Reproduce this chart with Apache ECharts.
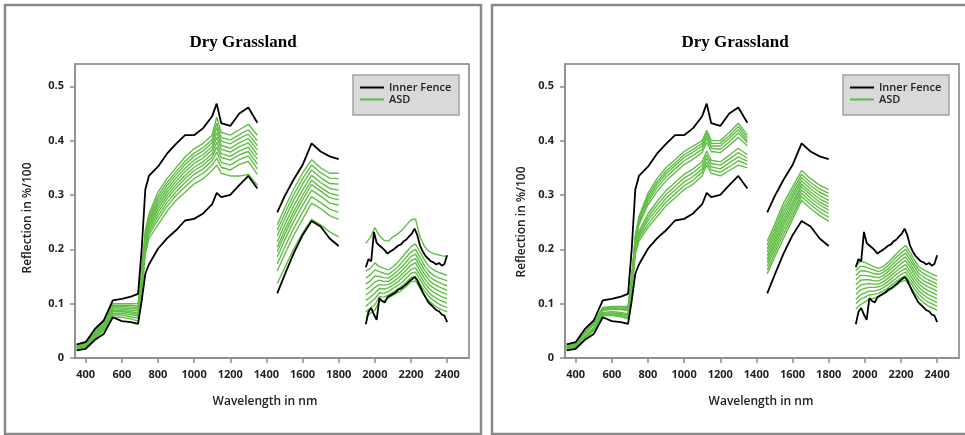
<!DOCTYPE html>
<html>
<head>
<meta charset="utf-8">
<script src="https://cdn.jsdelivr.net/npm/echarts@6/dist/echarts.min.js"></script>
<style>
  html, body { margin: 0; background: #fff; }
  #chart { width: 965px; height: 435px; }
</style>
</head>
<body>
<div id="chart"></div>
<script>
// wavelengths (nm); null rows at 1400 and 1875 break the lines over the water bands
const wavelengths = [350, 400, 450, 500, 550, 600, 650, 690, 710, 730, 750, 800, 850, 900, 950, 1000, 1050, 1100, 1125, 1150, 1200, 1250, 1300, 1350,
  1400,
  1460, 1500, 1550, 1600, 1650, 1700, 1750, 1800,
  1875,
  1950, 1975, 2000, 2025, 2050, 2075, 2100, 2125, 2150, 2175, 2200, 2225, 2250, 2275, 2300, 2325, 2350, 2375, 2400];

// the fence spectra are noisier past 1950 nm, so they get a finer grid there
const fenceWavelengths = [350, 400, 450, 500, 550, 600, 650, 690, 710, 730, 750, 800, 850, 900, 950, 1000, 1050, 1100, 1125, 1150, 1200, 1250, 1300, 1350,
  1400,
  1460, 1500, 1550, 1600, 1650, 1700, 1750, 1800,
  1875,
  1950, 1965, 1980, 1995, 2010, 2025, 2040, 2055, 2070, 2085, 2100, 2115, 2130, 2145, 2160, 2175, 2190, 2205, 2220, 2235, 2250, 2265, 2280, 2295, 2310, 2325, 2340, 2355, 2370, 2385, 2400];

// Inner Fence (same in both panels)
const fenceHigh = [.025, .029, .053, .069, .106, .109, .113, .118, .200, .310, .335, .352, .376, .394, .410, .410, .423, .445, .468, .432, .427, .450, .461, .433, null,
  .268, .297, .328, .355, .395, .380, .371, .366, null,
  .167, .182, .178, .232, .212, .207, .203, .198, .192, .196, .199, .203, .207, .209, .215, .218, .224, .229, .238, .226, .207, .196, .188, .183, .178, .176, .172, .175, .170, .173, .189];
const fenceLow = [.014, .017, .033, .044, .075, .068, .066, .063, .105, .155, .172, .201, .220, .235, .253, .256, .266, .283, .304, .296, .300, .318, .335, .312, null,
  .119, .152, .192, .226, .252, .242, .220, .206, null,
  .062, .085, .092, .080, .070, .110, .105, .102, .112, .115, .118, .121, .126, .128, .132, .136, .141, .145, .149, .143, .132, .121, .112, .103, .098, .093, .088, .086, .080, .078, .066];

// ASD spectra, left panel
const asdLeft1 = [.024, .030, .050, .068, .100, .100, .100, .100, .160, .235, .265, .305, .330, .350, .370, .385, .395, .410, .443, .415, .410, .420, .430, .410, null,
  .245, .275, .310, .340, .365, .350, .340, .340, null,
  .211, .222, .240, .225, .217, .215, .223, .228, .235, .245, .254, .256, .223, .205, .196, .192, .190, .188, .187];
const asdLeft2 = [.023, .029, .048, .066, .097, .097, .097, .096, .155, .230, .260, .298, .323, .343, .362, .377, .387, .402, .432, .406, .401, .411, .420, .400, null,
  .235, .265, .300, .330, .355, .341, .331, .330, null,
  .160, .165, .175, .168, .165, .162, .168, .175, .185, .195, .205, .210, .195, .180, .168, .162, .158, .155, .152];
const asdLeft3 = [.022, .028, .047, .064, .095, .095, .094, .093, .151, .225, .255, .292, .317, .337, .356, .371, .381, .396, .424, .399, .394, .404, .412, .391, null,
  .225, .255, .290, .320, .346, .332, .321, .320, null,
  .147, .153, .162, .159, .156, .154, .160, .167, .176, .186, .195, .200, .185, .170, .159, .152, .148, .145, .142];
const asdLeft4 = [.021, .027, .045, .062, .092, .092, .091, .090, .147, .221, .251, .286, .311, .331, .349, .364, .374, .389, .415, .391, .386, .396, .404, .383, null,
  .214, .244, .279, .309, .336, .323, .312, .309, null,
  .136, .142, .151, .150, .148, .147, .153, .160, .168, .177, .187, .191, .176, .162, .150, .144, .140, .136, .133];
const asdLeft5 = [.021, .026, .044, .060, .090, .090, .088, .087, .143, .216, .246, .280, .305, .325, .343, .358, .368, .383, .406, .384, .379, .389, .396, .374, null,
  .204, .234, .269, .299, .327, .314, .303, .299, null,
  .126, .132, .140, .143, .141, .141, .147, .153, .161, .170, .179, .183, .168, .154, .143, .136, .132, .128, .125];
const asdLeft6 = [.020, .025, .042, .059, .087, .087, .085, .083, .139, .212, .242, .274, .299, .319, .336, .351, .361, .376, .397, .376, .371, .381, .388, .366, null,
  .196, .226, .261, .291, .319, .307, .295, .291, null,
  .116, .122, .130, .135, .134, .135, .140, .146, .154, .162, .171, .175, .160, .146, .135, .129, .124, .120, .117];
const asdLeft7 = [.019, .024, .041, .057, .085, .085, .083, .080, .135, .207, .237, .268, .293, .313, .330, .345, .355, .370, .388, .369, .364, .374, .380, .357, null,
  .186, .216, .251, .281, .309, .298, .285, .281, null,
  .106, .112, .119, .128, .127, .129, .134, .140, .147, .155, .163, .166, .152, .138, .128, .121, .116, .112, .109];
const asdLeft8 = [.018, .023, .039, .055, .082, .082, .080, .077, .131, .202, .232, .261, .286, .306, .323, .338, .348, .363, .379, .360, .355, .365, .372, .348, null,
  .173, .203, .238, .268, .297, .286, .274, .268, null,
  .095, .102, .109, .120, .119, .122, .128, .133, .139, .147, .156, .158, .144, .131, .120, .113, .108, .104, .101];
const asdLeft9 = [.017, .021, .037, .053, .079, .079, .076, .073, .126, .197, .227, .254, .279, .299, .315, .330, .340, .355, .368, .351, .346, .356, .362, .338, null,
  .160, .190, .225, .255, .285, .275, .262, .255, null,
  .085, .092, .098, .113, .112, .116, .121, .127, .132, .140, .148, .150, .136, .123, .113, .106, .100, .096, .093];
const asdLeft10 = [.016, .020, .035, .050, .075, .075, .072, .068, .120, .190, .220, .245, .270, .290, .305, .320, .330, .345, .355, .340, .335, .335, .338, .318, null,
  .137, .165, .200, .230, .255, .245, .232, .223, null,
  .075, .082, .088, .105, .105, .110, .115, .120, .125, .132, .140, .142, .128, .115, .105, .098, .092, .088, .085];

// ASD spectra, right panel
const asdRight1 = [.022, .028, .048, .066, .093, .095, .095, .095, .150, .225, .260, .303, .330, .350, .365, .380, .390, .400, .419, .400, .400, .415, .432, .410, null,
  .215, .245, .285, .315, .345, .330, .318, .310, null,
  .170, .178, .176, .172, .168, .165, .168, .175, .183, .192, .200, .207, .195, .180, .168, .162, .158, .154, .150];
const asdRight2 = [.022, .027, .047, .065, .092, .094, .094, .093, .148, .222, .256, .298, .324, .344, .359, .374, .384, .395, .414, .395, .395, .409, .426, .405, null,
  .208, .238, .277, .308, .338, .323, .311, .303, null,
  .161, .169, .168, .165, .162, .159, .162, .169, .177, .186, .193, .200, .188, .173, .162, .155, .151, .147, .143];
const asdRight3 = [.021, .027, .046, .063, .091, .092, .092, .091, .145, .219, .253, .293, .319, .339, .354, .369, .379, .390, .409, .390, .390, .404, .420, .400, null,
  .201, .231, .270, .301, .332, .317, .305, .297, null,
  .152, .160, .160, .158, .155, .154, .157, .163, .171, .179, .187, .193, .181, .167, .155, .149, .144, .140, .136];
const asdRight4 = [.021, .026, .045, .062, .089, .091, .090, .089, .143, .217, .249, .288, .313, .333, .348, .363, .373, .384, .404, .386, .384, .398, .414, .396, null,
  .195, .225, .263, .295, .326, .311, .299, .290, null,
  .144, .152, .152, .151, .149, .148, .151, .158, .165, .173, .180, .186, .174, .160, .149, .142, .138, .134, .130];
const asdRight5 = [.020, .025, .044, .061, .088, .089, .089, .087, .140, .213, .245, .282, .306, .326, .341, .356, .366, .378, .397, .380, .378, .391, .406, .390, null,
  .188, .218, .256, .288, .320, .305, .293, .284, null,
  .135, .143, .144, .144, .142, .142, .146, .152, .159, .166, .174, .179, .167, .154, .142, .136, .131, .127, .123];
const asdRight6 = [.018, .023, .040, .056, .084, .085, .084, .081, .132, .204, .233, .265, .288, .308, .323, .338, .348, .361, .381, .364, .361, .373, .386, .374, null,
  .182, .212, .249, .282, .315, .300, .287, .278, null,
  .126, .134, .136, .137, .136, .136, .140, .146, .153, .160, .167, .172, .160, .147, .136, .129, .124, .120, .116];
const asdRight7 = [.018, .022, .039, .055, .083, .083, .082, .079, .129, .200, .228, .259, .281, .301, .316, .331, .341, .355, .374, .358, .355, .366, .378, .368, null,
  .176, .206, .243, .276, .309, .294, .282, .272, null,
  .117, .125, .128, .130, .130, .131, .134, .140, .147, .154, .160, .165, .153, .140, .130, .122, .117, .113, .109];
const asdRight8 = [.017, .022, .038, .053, .081, .081, .080, .077, .126, .197, .224, .253, .274, .294, .309, .324, .334, .348, .368, .352, .348, .359, .370, .362, null,
  .169, .199, .236, .269, .303, .288, .275, .266, null,
  .108, .116, .120, .123, .123, .125, .129, .134, .141, .147, .154, .158, .146, .134, .123, .116, .110, .106, .102];
const asdRight9 = [.017, .021, .036, .052, .080, .080, .078, .074, .123, .194, .220, .246, .267, .287, .302, .317, .327, .342, .361, .346, .342, .352, .363, .356, null,
  .162, .192, .228, .262, .297, .282, .269, .259, null,
  .100, .108, .112, .116, .117, .119, .123, .128, .135, .141, .147, .151, .140, .127, .117, .109, .103, .099, .095];
const asdRight10 = [.016, .020, .035, .050, .078, .078, .076, .072, .120, .190, .215, .240, .260, .280, .295, .310, .320, .335, .355, .340, .335, .345, .355, .350, null,
  .155, .185, .220, .255, .290, .275, .262, .252, null,
  .090, .098, .103, .108, .110, .113, .117, .122, .128, .134, .140, .143, .132, .120, .110, .102, .096, .092, .088];

const asdLeft = [asdLeft1, asdLeft2, asdLeft3, asdLeft4, asdLeft5, asdLeft6, asdLeft7, asdLeft8, asdLeft9, asdLeft10];
const asdRight = [asdRight1, asdRight2, asdRight3, asdRight4, asdRight5, asdRight6, asdRight7, asdRight8, asdRight9, asdRight10];

const xTicks = [400, 600, 800, 1000, 1200, 1400, 1600, 1800, 2000, 2200, 2400];
const yTicks = [0, 0.1, 0.2, 0.3, 0.4, 0.5];

const chart = echarts.init(document.getElementById('chart'), null, { renderer: 'canvas' });

const axisGray = '#8c8c8c';
const green = '#62bd47';
const labelStyle = { fontFamily: 'Open Sans', fontSize: 11, fontWeight: 'bold', color: '#222' };

function pairs(xs, vals) {
  return xs.map((w, i) => [w, vals[i]]);
}

const panels = [
  { dx: 0, asd: asdLeft, titleX: 243, xNameX: 265, yNameX: 28, yNameY: 218 },
  { dx: 490, asd: asdRight, titleX: 735, xNameX: 761, yNameX: 522, yNameY: 222 }
];

const series = [];
panels.forEach((p, k) => {
  [fenceHigh, fenceLow].forEach(vals => {
    series.push({
      name: 'Inner Fence', type: 'line', xAxisIndex: k, yAxisIndex: k, data: pairs(fenceWavelengths, vals),
      symbol: 'none', z: 4, lineStyle: { color: '#000', width: 1.8 }, itemStyle: { color: '#000' }
    });
  });
  p.asd.forEach(vals => {
    series.push({
      name: 'ASD', type: 'line', xAxisIndex: k, yAxisIndex: k, data: pairs(wavelengths, vals),
      symbol: 'none', z: 3, lineStyle: { color: green, width: 1.4 }, itemStyle: { color: green }
    });
  });
});

const graphic = [];
// panel frames
graphic.push({ type: 'rect', shape: { x: 5, y: 5, width: 476, height: 429 }, style: { fill: null, stroke: '#8a8a8a', lineWidth: 2.5 }, z: 0 });
graphic.push({ type: 'rect', shape: { x: 492, y: 5, width: 480, height: 429 }, style: { fill: null, stroke: '#8a8a8a', lineWidth: 2.5 }, z: 0 });
panels.forEach(p => {
  graphic.push({ type: 'text', x: p.titleX, y: 43, style: { text: 'Dry Grassland', font: 'bold 17px "Liberation Serif"', fill: '#000', align: 'center', verticalAlign: 'middle' } });
  graphic.push({ type: 'text', x: p.xNameX, y: 402, style: { text: 'Wavelength in nm', font: '600 12px "Open Sans"', fill: '#222', align: 'center', verticalAlign: 'middle' } });
  graphic.push({ type: 'text', x: p.yNameX, y: p.yNameY, rotation: Math.PI / 2, style: { text: 'Reflection in %/100', font: '600 12px "Open Sans"', fill: '#222', align: 'center', verticalAlign: 'middle' } });
  // legend box
  graphic.push({ type: 'rect', shape: { x: 353 + p.dx, y: 75, width: 106, height: 40 }, style: { fill: '#d9d9d9', stroke: '#a3a3a3', lineWidth: 1.5 }, z: 5 });
});

const option = {
  animation: false,
  backgroundColor: '#fff',
  grid: panels.map(p => ({
    left: 75 + p.dx, top: 64, width: 394, height: 294,
    show: true, borderColor: '#7f7f7f', borderWidth: 1.5, backgroundColor: '#fff'
  })),
  xAxis: panels.map((p, k) => ({
    type: 'value', gridIndex: k, min: 341, max: 2521,
    splitLine: { show: false },
    axisLine: { lineStyle: { color: axisGray, width: 1.5 } },
    axisTick: { customValues: xTicks, length: 5, lineStyle: { color: axisGray, width: 1.5 } },
    axisLabel: { customValues: xTicks, margin: 11, formatter: v => String(v), ...labelStyle }
  })),
  yAxis: panels.map((p, k) => ({
    type: 'value', gridIndex: k, min: 0, max: 0.541,
    splitLine: { show: false },
    axisLine: { show: true, lineStyle: { color: axisGray, width: 1.5 } },
    axisTick: { show: true, customValues: yTicks, length: 5, lineStyle: { color: axisGray, width: 1.5 } },
    axisLabel: { customValues: yTicks, margin: 11, ...labelStyle }
  })),
  legend: panels.map(p => ({
    data: ['Inner Fence', 'ASD'],
    orient: 'vertical', left: 359 + p.dx, top: 82, padding: 0,
    itemGap: 1, itemWidth: 24, itemHeight: 10, selectedMode: false, z: 6,
    itemStyle: { color: 'transparent', borderWidth: 0, opacity: 0 },
    textStyle: { fontFamily: 'Open Sans', fontSize: 11, fontWeight: 600, color: '#222' }
  })),
  graphic: graphic,
  series: series
};

chart.setOption(option);
</script>
</body>
</html>
